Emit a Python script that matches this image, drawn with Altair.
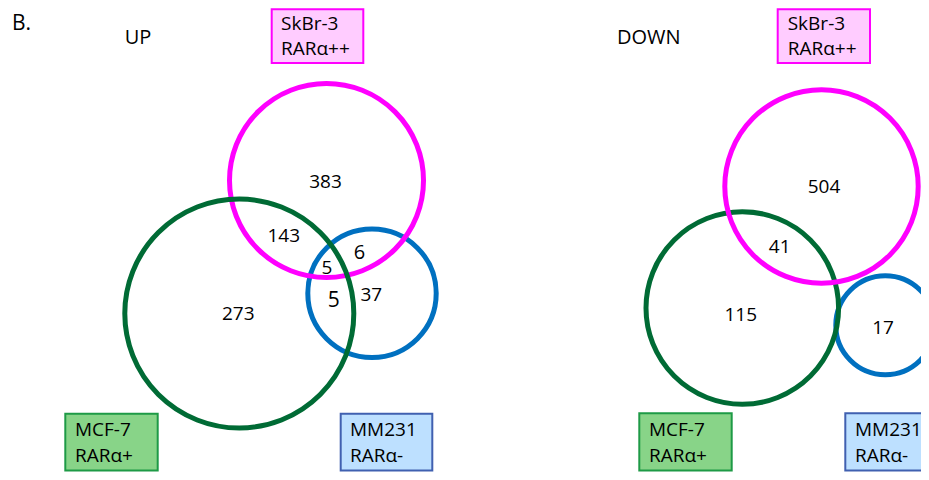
import altair as alt
import pandas as pd

# ---- circles (pixel-space coordinates) ----
circle_panel = ["UP", "UP", "UP", "DOWN", "DOWN", "DOWN"]
circle_set = ["SkBr-3", "MCF-7", "MM231", "SkBr-3", "MCF-7", "MM231"]
circle_cx = [326.5, 239.3, 372.0, 821.5, 742.3, 885.3]
circle_cy = [180.5, 313.5, 293.3, 186.5, 308.0, 325.2]
circle_r = [97.0, 114.5, 64.2, 96.7, 96.3, 49.5]
set_colors = {"SkBr-3": "#FF00FF", "MCF-7": "#006B35", "MM231": "#0070C0"}

# ---- region counts ----
count_text = ["383", "143", "6", "5", "5", "37", "273", "504", "41", "115", "17"]
count_x = [325.5, 283.8, 359.5, 327.0, 333.8, 371.3, 238.3, 824.0, 779.7, 740.8, 883.0]
count_y = [181.0, 234.5, 252.0, 267.0, 300.0, 293.8, 313.3, 185.7, 245.7, 314.0, 326.8]
count_size = [19, 19, 20, 19, 21, 19, 19, 19, 19, 19, 19]

# ---- label boxes ----
box_set = ["SkBr-3", "MCF-7", "MM231", "SkBr-3", "MCF-7", "MM231"]
box_x1 = [271.7, 65.3, 340.7, 777.7, 639.3, 845.3]
box_x2 = [363.3, 157.7, 432.3, 870.0, 731.7, 938.0]
box_y1 = [9.3, 413.8, 413.8, 9.3, 413.3, 413.3]
box_y2 = [63.0, 470.5, 470.5, 63.0, 470.5, 470.5]
box_fill = {"SkBr-3": "#FFCCFF", "MCF-7": "#88D488", "MM231": "#BDE0FF"}
box_stroke = {"SkBr-3": "#FF00FF", "MCF-7": "#1E9A46", "MM231": "#4060B0"}

label_line1 = ["SkBr-3", "MCF-7", "MM231", "SkBr-3", "MCF-7", "MM231"]
label_line2 = ["RARα++", "RARα+", "RARα-", "RARα++", "RARα+", "RARα-"]
label_x = [281.0, 75.0, 350.0, 787.7, 649.0, 855.0]
label_y1 = [22.5, 429.3, 429.3, 22.5, 429.3, 429.3]
label_y2 = [47.5, 455.3, 455.3, 47.5, 455.3, 455.3]

# ---- titles ----
title_text = ["B.", "UP", "DOWN"]
title_x = [12.0, 138.0, 648.7]
title_y = [23.0, 37.0, 37.0]
title_align = ["left", "center", "center"]
title_size = [21, 20, 20]

FONT = "Open Sans"
OFF = 8          # page margin
W, H = 913, 464  # plot area kept inside the 929x480 window (8px margins)
xs = alt.Scale(domain=[OFF, OFF + W], range=[0, W], zero=False, nice=False)
ys = alt.Scale(domain=[OFF, OFF + H], range=[0, H], zero=False, nice=False)

circles = pd.DataFrame({
    "panel": circle_panel, "set": circle_set,
    "cx": circle_cx, "cy": circle_cy, "r": circle_r,
})
circles["color"] = circles["set"].map(set_colors)

counts = pd.DataFrame({"t": count_text, "x": count_x, "y": count_y, "fs": count_size})

boxes = pd.DataFrame({"set": box_set, "x1": box_x1, "x2": box_x2, "y1": box_y1, "y2": box_y2})
boxes["fill"] = boxes["set"].map(box_fill)
boxes["stroke"] = boxes["set"].map(box_stroke)

labels = pd.DataFrame({
    "t": label_line1 + label_line2,
    "x": label_x + label_x,
    "y": label_y1 + label_y2,
})

titles = pd.DataFrame({"t": title_text, "x": title_x, "y": title_y,
                       "align": title_align, "fs": title_size})

box_layer = alt.Chart(boxes).mark_rect(strokeWidth=2).encode(
    x=alt.X("x1:Q", scale=xs, axis=None),
    x2="x2:Q",
    y=alt.Y("y1:Q", scale=ys, axis=None),
    y2="y2:Q",
    fill=alt.Fill("fill:N", scale=None),
    stroke=alt.Stroke("stroke:N", scale=None),
)

circle_layer = alt.Chart(circles).transform_calculate(
    sz="4 * datum.r * datum.r"
).mark_point(shape="circle", filled=False, strokeWidth=5, opacity=1).encode(
    x=alt.X("cx:Q", scale=xs, axis=None),
    y=alt.Y("cy:Q", scale=ys, axis=None),
    size=alt.Size("sz:Q", scale=None),
    stroke=alt.Stroke("color:N", scale=None),
    order=alt.Order("r:Q"),
)

count_layer = alt.Chart(counts).mark_text(
    font=FONT, color="#000000", align="center", baseline="middle", dy=1
).encode(
    x=alt.X("x:Q", scale=xs, axis=None),
    y=alt.Y("y:Q", scale=ys, axis=None),
    text="t:N",
    size=alt.Size("fs:Q", scale=None),
)

label_layer = alt.Chart(labels).mark_text(
    font=FONT, fontSize=19, color="#000000", align="left", baseline="middle", dy=1
).encode(
    x=alt.X("x:Q", scale=xs, axis=None),
    y=alt.Y("y:Q", scale=ys, axis=None),
    text="t:N",
)

title_left = alt.Chart(titles).transform_filter("datum.align == 'left'").mark_text(
    font=FONT, color="#000000", align="left", baseline="middle", dy=1
).encode(
    x=alt.X("x:Q", scale=xs, axis=None),
    y=alt.Y("y:Q", scale=ys, axis=None),
    text="t:N",
    size=alt.Size("fs:Q", scale=None),
)
title_center = alt.Chart(titles).transform_filter("datum.align == 'center'").mark_text(
    font=FONT, color="#000000", align="center", baseline="middle", dy=1
).encode(
    x=alt.X("x:Q", scale=xs, axis=None),
    y=alt.Y("y:Q", scale=ys, axis=None),
    text="t:N",
    size=alt.Size("fs:Q", scale=None),
)

chart = alt.layer(
    box_layer, circle_layer, count_layer, label_layer, title_left, title_center
).properties(
    width=W, height=H, padding=0,
    autosize=alt.AutoSizeParams(type="none"),
    background="#FFFFFF",
).configure_view(stroke=None)

chart.save("out.html", embed_options={"renderer": "svg", "actions": False})
